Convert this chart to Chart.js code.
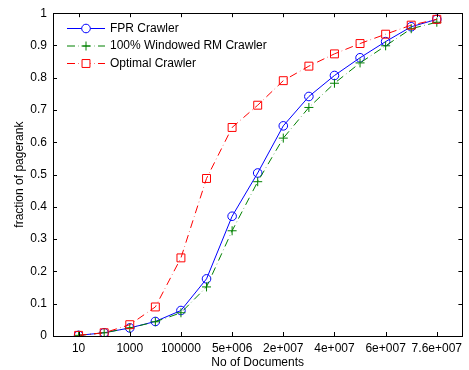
<!DOCTYPE html>
<html><head><meta charset="utf-8">
<script src="https://cdn.jsdelivr.net/npm/chart.js@4/dist/chart.umd.min.js"></script>
<style>html,body{margin:0;padding:0;background:#fff}#wrap{width:469px;height:370px}</style>
</head><body><div id="wrap"><canvas id="c" width="469" height="370"></canvas></div>
<script>
const xTickLabels = ['10','','1000','','100000','','5e+006','','2e+007','','4e+007','','6e+007','','7.6e+007'];
const fprCrawler = [0.002,0.010,0.025,0.045,0.079,0.177,0.371,0.505,0.651,0.742,0.807,0.862,0.912,0.958,0.981];
const windowedRM = [0.002,0.010,0.025,0.044,0.072,0.152,0.326,0.478,0.613,0.708,0.783,0.846,0.899,0.952,0.972];
const optimalCrawler = [0.002,0.010,0.035,0.090,0.242,0.488,0.646,0.715,0.791,0.836,0.874,0.906,0.935,0.963,0.981];
const seriesNames = ['FPR Crawler','100% Windowed RM Crawler','Optimal Crawler'];
const yTicks = [0,0.1,0.2,0.3,0.4,0.5,0.6,0.7,0.8,0.9,1];

const FONT = 'Liberation Sans, Arial, Helvetica, sans-serif';
const toPts = arr => arr.map((v,i)=>({x:i,y:v}));
const DASHDOT = [8,3.5,0.5,3.5];
const styles = [
  {color:'#0000ff', dash:[], point:'circle', r:4.3},
  {color:'#008000', dash:DASHDOT, point:'cross', r:4.5},
  {color:'#ff0000', dash:DASHDOT, point:'rect', r:5.6}
];
const series = [fprCrawler, windowedRM, optimalCrawler];

const boxPlugin = {
  id:'box',
  afterDraw(chart){
    const ctx = chart.ctx, a = chart.chartArea;
    const xs = chart.scales.x, ys = chart.scales.y;
    ctx.save();
    ctx.strokeStyle = '#000'; ctx.lineWidth = 1; ctx.setLineDash([]);
    ctx.strokeRect(Math.round(a.left)+0.5, Math.round(a.top)+0.5, Math.round(a.right-a.left), Math.round(a.bottom-a.top));
    const L = 4;
    ctx.beginPath();
    xs.ticks.forEach(t=>{
      const px = Math.round(xs.getPixelForValue(t.value))+0.5;
      ctx.moveTo(px, a.bottom); ctx.lineTo(px, a.bottom-L);
      ctx.moveTo(px, a.top); ctx.lineTo(px, a.top+L);
    });
    ys.ticks.forEach(t=>{
      const py = Math.round(ys.getPixelForValue(t.value))+0.5;
      ctx.moveTo(a.left, py); ctx.lineTo(a.left+L, py);
      ctx.moveTo(a.right, py); ctx.lineTo(a.right-L, py);
    });
    ctx.stroke();
    // legend
    const rows = [28.5, 46, 63.5];
    ctx.font = '12px ' + FONT;
    ctx.textBaseline = 'middle'; ctx.textAlign = 'left';
    seriesNames.forEach((name,i)=>{
      const s = styles[i], y = rows[i];
      ctx.strokeStyle = s.color; ctx.lineWidth = 1;
      ctx.setLineDash(s.dash);
      ctx.beginPath(); ctx.moveTo(67, y); ctx.lineTo(105, y); ctx.stroke();
      ctx.setLineDash([]);
      ctx.beginPath();
      const m = 86;
      if (s.point==='circle'){ ctx.arc(m, y, s.r, 0, Math.PI*2); }
      else if (s.point==='cross'){ ctx.moveTo(m-s.r,y); ctx.lineTo(m+s.r,y); ctx.moveTo(m,y-s.r); ctx.lineTo(m,y+s.r); }
      else { const h = s.r*Math.SQRT1_2; ctx.rect(m-h, y-h, 2*h, 2*h); }
      ctx.fillStyle = '#fff';
      if (s.point!=='cross') ctx.fill();
      ctx.stroke();
      ctx.fillStyle = '#000';
      ctx.fillText(name, 110, y);
    });
    ctx.restore();
  }
};

new Chart(document.getElementById('c'), {
  type:'line',
  data:{
    datasets: series.map((d,i)=>({
      label: seriesNames[i],
      data: toPts(d),
      borderColor: styles[i].color,
      backgroundColor: 'rgba(255,255,255,0)',
      borderWidth: 1,
      borderDash: styles[i].dash,
      pointStyle: styles[i].point,
      pointRadius: styles[i].r,
      pointBorderWidth: 1,
      pointBorderColor: styles[i].color,
      pointBackgroundColor: 'rgba(255,255,255,0)',
      tension: 0,
      order: 2 - i
    }))
  },
  options:{
    responsive:false, animation:false,
    layout:{padding:{left:0, top:11, right:3, bottom:0}},
    plugins:{legend:{display:false}, tooltip:{enabled:false}},
    scales:{
      x:{
        type:'linear', min:-1, max:15,
        afterBuildTicks(s){ s.ticks = xTickLabels.map((l,i)=>({value:i, label:l})).filter(t=>t.label!==''); },
        afterFit(s){ s.height = 34; },
        grid:{display:false, drawTicks:false},
        border:{display:false},
        ticks:{autoSkip:false, maxRotation:0, padding:5, color:'#000', font:{family:FONT, size:12},
          callback:(v)=> xTickLabels[Math.round(v)] },
        title:{display:true, text:'No of Documents', color:'#000', font:{family:FONT, size:12}, padding:{top:0,bottom:0}}
      },
      y:{
        min:0, max:1,
        afterBuildTicks(s){ s.ticks = yTicks.map(v=>({value:v})); },
        afterFit(s){ s.width = 53; },
        grid:{display:false, drawTicks:false},
        border:{display:false},
        ticks:{padding:6, color:'#000', font:{family:FONT, size:12},
          callback:(v)=> String(Number(v.toFixed(1))) },
        title:{display:true, text:'fraction of pagerank', color:'#000', font:{family:FONT, size:12}, padding:{top:12,bottom:0}}
      }
    }
  },
  plugins:[boxPlugin]
});
</script></body></html>
